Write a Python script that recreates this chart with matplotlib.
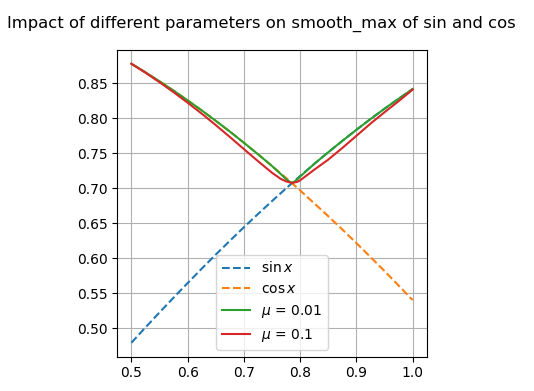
import matplotlib
matplotlib.use("Agg")
import matplotlib.pyplot as plt

# x grid and curve values
x_vals = [0.5, 0.525, 0.55, 0.575, 0.6, 0.625, 0.65, 0.675, 0.7, 0.725,
          0.75, 0.765, 0.775, 0.7854, 0.795, 0.8, 0.825, 0.85, 0.875, 0.9,
          0.925, 0.95, 0.975, 1.0]

sin_vals = [0.4794, 0.5012, 0.5227, 0.5438, 0.5646, 0.5851, 0.6052, 0.6249,
            0.6442, 0.6631, 0.6816, 0.6925, 0.6997, 0.7071, 0.7139, 0.7174,
            0.7346, 0.7513, 0.7675, 0.7833, 0.7986, 0.8134, 0.8276, 0.8415]

cos_vals = [0.8776, 0.8653, 0.8525, 0.8392, 0.8253, 0.8110, 0.7961, 0.7808,
            0.7648, 0.7485, 0.7317, 0.7214, 0.7145, 0.7071, 0.7003, 0.6967,
            0.6784, 0.6600, 0.6410, 0.6216, 0.6018, 0.5817, 0.5611, 0.5403]

mu_001_vals = [0.8776, 0.8653, 0.8525, 0.8392, 0.8253, 0.8110, 0.7961, 0.7808,
               0.7648, 0.7485, 0.7316, 0.7206, 0.7128, 0.7071, 0.7124, 0.7166,
               0.7346, 0.7513, 0.7675, 0.7833, 0.7986, 0.8134, 0.8276, 0.8415]

mu_01_vals = [0.8775, 0.8648, 0.8512, 0.8370, 0.8220, 0.8064, 0.7900, 0.7731,
              0.7558, 0.7386, 0.7220, 0.7135, 0.7097, 0.7074, 0.7090, 0.7112,
              0.7263, 0.7408, 0.7574, 0.7747, 0.7921, 0.8084, 0.8241, 0.8407]

fig = plt.figure(figsize=(5.34, 3.91), dpi=100)
ax = fig.add_axes([0.2197, 0.0877, 0.5794, 0.785])

ax.plot(x_vals, sin_vals, "--", label=r"$\sin x$")
ax.plot(x_vals, cos_vals, "--", label=r"$\cos x$")
ax.plot(x_vals, mu_001_vals, label=r"$\mu$ = 0.01")
ax.plot(x_vals, mu_01_vals, label=r"$\mu$ = 0.1")

ax.set_xticks([0.5, 0.6, 0.7, 0.8, 0.9, 1.0])
ax.grid(True)
ax.legend(loc="lower center")

fig.text(0.49, 0.94, "Impact of different parameters on smooth_max of sin and cos",
         ha="center", va="center", fontsize=11.8)

fig.savefig("out.png", dpi=100)
